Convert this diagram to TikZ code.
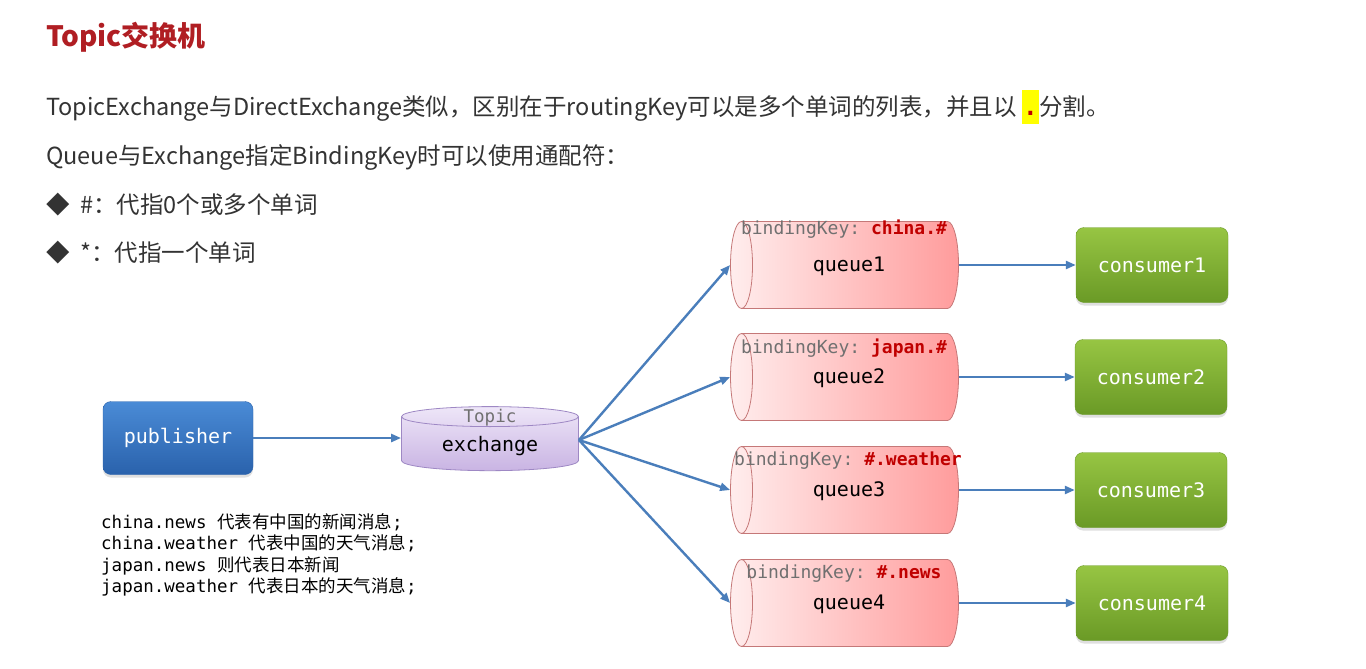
\documentclass[tikz,border=0pt]{standalone}
\usepackage{fontspec}
\setmainfont{Noto Sans CJK SC}
\setmonofont{DejaVu Sans Mono}
\newfontfamily\cn{Noto Sans CJK SC}
\usetikzlibrary{positioning,arrows.meta,shapes.geometric,shadows}
\definecolor{txt}{HTML}{333333}
\definecolor{titlered}{HTML}{B01E23}
\definecolor{keyred}{HTML}{C00000}
\definecolor{keygray}{HTML}{707070}
\definecolor{arrblue}{HTML}{4A7EBB}
\definecolor{hl}{HTML}{FFFF00}
\definecolor{pubtop}{HTML}{4A8BD6}
\definecolor{pubbot}{HTML}{2A62AC}
\definecolor{constop}{HTML}{97C543}
\definecolor{consbot}{HTML}{6A9A26}
\definecolor{qlight}{HTML}{FFEDED}
\definecolor{qdark}{HTML}{FF9C9C}
\definecolor{qline}{HTML}{C57878}
\definecolor{extop}{HTML}{EEE6F8}
\definecolor{exbot}{HTML}{C9B4E3}
\definecolor{exline}{HTML}{9E88C4}
\tikzset{
  line/.style={anchor=west,inner sep=0pt,text=txt,font=\fontsize{23.5}{28}\selectfont},
  shad/.style={drop shadow={opacity=0.25,shadow xshift=0pt,shadow yshift=-3pt}},
  pub/.style={rectangle,rounded corners=8pt,minimum width=150pt,minimum height=73pt,top color=pubtop,bottom color=pubbot,draw=pubbot,text=white,font=\ttfamily\fontsize{20}{24}\selectfont,shad},
  cons/.style={rectangle,rounded corners=8pt,minimum width=152pt,minimum height=75pt,top color=constop,bottom color=consbot,draw=consbot,text=white,font=\ttfamily\fontsize{20}{24}\selectfont,shad},
  queue/.style={cylinder,shape border rotate=180,aspect=0.5,inner sep=22pt,minimum height=228pt,minimum width=87pt,left color=qlight,right color=qdark,draw=qline,line width=0.8pt},
  exch/.style={cylinder,shape border rotate=90,aspect=0.5,inner sep=20pt,minimum height=62pt,minimum width=177pt,top color=extop,bottom color=exbot,draw=exline,line width=0.8pt},
  key/.style={inner sep=0pt,text=keygray,font=\ttfamily\fontsize{18}{20}\selectfont},
  qtxt/.style={inner sep=0pt,text=black,font=\ttfamily\fontsize{20}{24}\selectfont},
  arr/.style={-{Triangle[length=10pt,width=8pt]},draw=arrblue,line width=2.4pt}
}

\begin{document}
\begin{tikzpicture}[x=1pt,y=-1pt]
\useasboundingbox[fill=white] (0,0) rectangle (1366,669);

\node[anchor=west,inner sep=0pt,text=titlered,font=\bfseries\fontsize{28}{32}\selectfont] (title) at (46,37) {Topic交换机};

\node[line] (l1) at (46,107) {TopicExchange与DirectExchange类似，区别在于routingKey可以是多个单词的列表，并且以 {\setlength{\fboxsep}{1.5pt}\colorbox{hl}{\rule[-0.3em]{0pt}{1.3em}\textcolor{keyred}{\ttfamily\bfseries .}}}分割。};
\node[line] (l2) at (46,157) {Queue与Exchange指定BindingKey时可以使用通配符：};
\node[line] (l3) at (46,205) {◆\hspace{0.45em}\#：代指0个或多个单词};
\node[line] (l4) at (46,253) {◆\hspace{0.45em}*：代指一个单词};

\node[pub] (pub) at (178,438) {publisher};
\node[exch] (ex) at (490,447) {};
\node[inner sep=0pt,text=keygray,font=\ttfamily\fontsize{17.5}{20}\selectfont] (extop) at (490,418) {Topic};
\node[qtxt] (extxt) at (490,446) {exchange};
\coordinate (exout) at ([yshift=7pt]ex.east);

\node[anchor=west,align=left,inner sep=0pt,text=black,font=\ttfamily\fontsize{17.5}{21.3}\selectfont] (notes) at (101,555) {%
china.news {\cn 代表有中国的新闻消息};\\
china.weather {\cn 代表中国的天气消息};\\
japan.news {\cn 则代表日本新闻}\\
japan.weather {\cn 代表日本的天气消息};};

\node[queue] (q1) at (855,265) {};
\node[queue] (q2) at (855,377) {};
\node[queue] (q3) at (855,490) {};
\node[queue] (q4) at (855,603) {};

\node[key] (k1) at (844,229) {bindingKey: \textcolor{keyred}{\bfseries china.\#}};
\node[key] (k2) at (844,348) {bindingKey: \textcolor{keyred}{\bfseries japan.\#}};
\node[key] (k3) at (848,461) {bindingKey: \textcolor{keyred}{\bfseries \#.weather}};
\node[key] (k4) at (844,574) {bindingKey: \textcolor{keyred}{\bfseries \#.news}};

\node[qtxt] (t1) at (849,266) {queue1};
\node[qtxt] (t2) at (849,378) {queue2};
\node[qtxt] (t3) at (849,491) {queue3};
\node[qtxt] (t4) at (849,604) {queue4};

\node[cons] (c1) at (1152,265) {consumer1};
\node[cons] (c2) at (1151,377) {consumer2};
\node[cons] (c3) at (1151,490) {consumer3};
\node[cons] (c4) at (1152,603) {consumer4};

\draw[arr] (pub) -- (ex.west |- pub);
\draw[arr] (exout) -- (q1.west);
\draw[arr] (exout) -- (q2.west);
\draw[arr] (exout) -- (q3.west);
\draw[arr] (exout) -- (q4.west);
\draw[arr] (q1) -- (c1);
\draw[arr] (q2) -- (c2);
\draw[arr] (q3) -- (c3);
\draw[arr] (q4) -- (c4);
\end{tikzpicture}
\end{document}
